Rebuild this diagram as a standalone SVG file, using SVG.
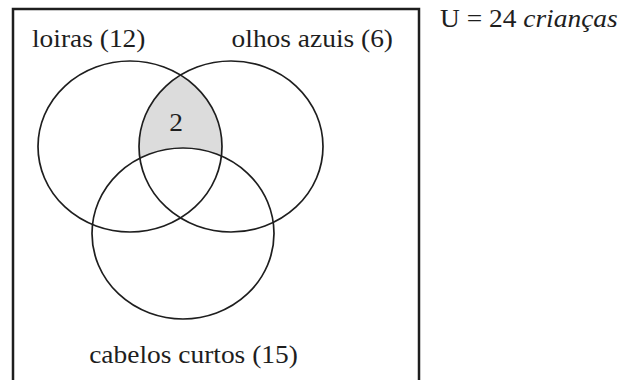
<svg xmlns="http://www.w3.org/2000/svg" width="623" height="380" viewBox="0 0 623 380">
<style>
.c{fill:none;stroke:#1e1e1e;stroke-width:1.7}
.t{font-family:"Liberation Serif","Times New Roman",serif;font-size:25.5px;fill:#1e1e1e}
</style>
<defs>
<clipPath id="clipL"><ellipse cx="130" cy="146.5" rx="92" ry="85.5"/></clipPath>
<mask id="mB"><rect x="0" y="0" width="623" height="380" fill="#fff"/><ellipse cx="183" cy="233.5" rx="91" ry="85.5" fill="#000"/></mask>
</defs>
<rect width="623" height="380" fill="#fff"/>
<g id="frame"><rect x="13" y="9" width="406" height="385" fill="none" stroke="#1e1e1e" stroke-width="2.5"/></g>
<g id="region-shaded"><g mask="url(#mB)"><ellipse cx="231" cy="146.5" rx="92" ry="85.5" fill="#dcdcdc" clip-path="url(#clipL)"/></g>
<text class="t" transform="translate(176,131) scale(1.076,1)" text-anchor="middle">2</text></g>
<g id="loiras"><ellipse class="c" cx="130" cy="146.5" rx="92" ry="85.5"/><text class="t" transform="translate(32,47) scale(1.076,1)">loiras (12)</text></g>
<g id="olhos-azuis"><ellipse class="c" cx="231" cy="146.5" rx="92" ry="85.5"/><text class="t" transform="translate(393,47) scale(1.076,1)" text-anchor="end">olhos azuis (6)</text></g>
<g id="cabelos-curtos"><ellipse class="c" cx="183" cy="233.5" rx="91" ry="85.5"/><text class="t" transform="translate(193.5,363) scale(1.076,1)" text-anchor="middle">cabelos curtos (15)</text></g>
<g id="universe"><text class="t" transform="translate(440,27) scale(1.076,1)">U = 24 <tspan font-style="italic">crianças</tspan></text></g>
</svg>
